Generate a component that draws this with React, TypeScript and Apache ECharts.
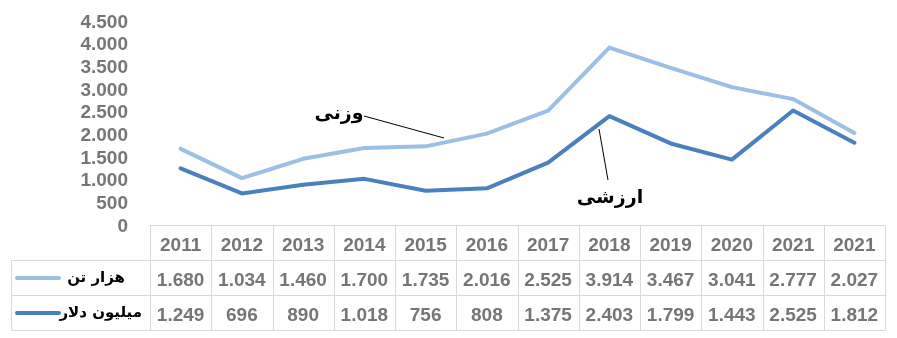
import React, { useEffect, useRef } from "react";
import * as echarts from "echarts";

const categories = ["2011", "2012", "2013", "2014", "2015", "2016", "2017", "2018", "2019", "2020", "2021", "2021"];
const weightValues = [1680, 1034, 1460, 1700, 1735, 2016, 2525, 3914, 3467, 3041, 2777, 2027];
const dollarValues = [1249, 696, 890, 1018, 756, 808, 1375, 2403, 1799, 1443, 2525, 1812];
const seriesNames = ["هزار تن", "میلیون دلار"];
const annotationLabels = ["وزنی", "ارزشی"];
const yMin = 0;
const yMax = 4500;
const yInterval = 500;

const lightBlue = "#9BBFE5";
const darkBlue = "#4A80BD";
const gray = "#767676";
const gridLine = "#D9D9D9";
const numFont = "'Liberation Sans', Arial, sans-serif";
const arFont = "'DejaVu Sans', 'Noto Sans', sans-serif";

const fmt = (n: number) => String(n).replace(/\B(?=(\d{3})+(?!\d))/g, ".");

export default function App() {
  const ref = useRef<HTMLDivElement>(null);
  useEffect(() => {
    if (!ref.current) return;
    const chart = echarts.init(ref.current, null, { renderer: "svg" });
    chart.setOption({
      animation: false,
      grid: { left: 150, right: 12, top: 21, bottom: 113, containLabel: false },
      xAxis: {
        type: "category",
        data: categories,
        boundaryGap: true,
        axisLine: { show: false },
        axisTick: { show: false },
        axisLabel: { show: false },
      },
      yAxis: {
        type: "value",
        min: yMin,
        max: yMax,
        interval: yInterval,
        axisLine: { show: false },
        axisTick: { show: false },
        splitLine: { show: false },
        axisLabel: {
          margin: 22,
          color: gray,
          fontSize: 19,
          fontWeight: "bold",
          fontFamily: numFont,
          formatter: (v: number) => fmt(v),
        },
      },
      series: [
        {
          name: seriesNames[0],
          type: "line",
          data: weightValues,
          symbol: "none",
          lineStyle: { color: lightBlue, width: 4, cap: "round", join: "round" },
          z: 3,
        },
        {
          name: seriesNames[1],
          type: "line",
          data: dollarValues,
          symbol: "none",
          lineStyle: { color: darkBlue, width: 4, cap: "round", join: "round" },
          z: 3,
        },
      ],
    });

    const cx = (i: number) => chart.convertToPixel({ xAxisIndex: 0 }, i) as number;
    const bw = cx(1) - cx(0);
    const left = cx(0) - bw / 2;
    const right = left + bw * categories.length;
    const tableTop = 225.5;
    const rowH = 35;
    const legendLeft = 11.5;
    const els: any[] = [];
    const line = (x1: number, y1: number, x2: number, y2: number) =>
      els.push({ type: "line", shape: { x1, y1, x2, y2 }, style: { stroke: gridLine, lineWidth: 1 }, silent: true });

    line(left, tableTop, right, tableTop);
    for (let r = 1; r <= 3; r++) line(legendLeft, tableTop + r * rowH, right, tableTop + r * rowH);
    line(legendLeft, tableTop + rowH, legendLeft, tableTop + 3 * rowH);
    for (let k = 0; k <= categories.length; k++) {
      const x = Math.round(left + k * bw) + 0.5;
      line(x, tableTop, x, tableTop + 3 * rowH);
    }
    const rows = [categories, weightValues.map(fmt), dollarValues.map(fmt)];
    rows.forEach((row, r) => {
      row.forEach((t, i) => {
        els.push({
          type: "text",
          x: cx(i),
          y: tableTop + r * rowH + rowH / 2 + 1,
          style: {
            text: t,
            align: "center",
            verticalAlign: "middle",
            fill: gray,
            font: `bold 19px ${numFont}`,
          },
          silent: true,
        });
      });
    });
    // legend cells
    const legendColors = [lightBlue, darkBlue];
    const legendTextRight = [125, 142];
    seriesNames.forEach((name, r) => {
      const yc = tableTop + (r + 1) * rowH + rowH / 2;
      els.push({
        type: "line",
        shape: { x1: 17, y1: yc, x2: 59, y2: yc },
        style: { stroke: legendColors[r], lineWidth: 4, lineCap: "round" },
        silent: true,
      });
      els.push({
        type: "text",
        x: legendTextRight[r],
        y: yc - 1,
        style: {
          text: name,
          align: "right",
          verticalAlign: "middle",
          fill: "#000",
          font: `bold 15px ${arFont}`,
        },
        silent: true,
      });
    });
    // annotations
    els.push({
      type: "line",
      shape: { x1: 364, y1: 116, x2: 444, y2: 138 },
      style: { stroke: "#000", lineWidth: 1 },
      silent: true,
    });
    els.push({
      type: "text",
      x: 339,
      y: 112,
      style: { text: annotationLabels[0], align: "center", verticalAlign: "middle", fill: "#000", font: `bold 19px ${arFont}` },
      silent: true,
    });
    els.push({
      type: "line",
      shape: { x1: 599, y1: 129, x2: 608, y2: 180 },
      style: { stroke: "#000", lineWidth: 1 },
      silent: true,
    });
    els.push({
      type: "text",
      x: 610,
      y: 196,
      style: { text: annotationLabels[1], align: "center", verticalAlign: "middle", fill: "#000", font: `bold 19px ${arFont}` },
      silent: true,
    });
    chart.setOption({ graphic: els });
    return () => chart.dispose();
  }, []);
  return <div ref={ref} style={{ position: "fixed", left: 0, top: 0, width: 897, height: 338 }} />;
}
